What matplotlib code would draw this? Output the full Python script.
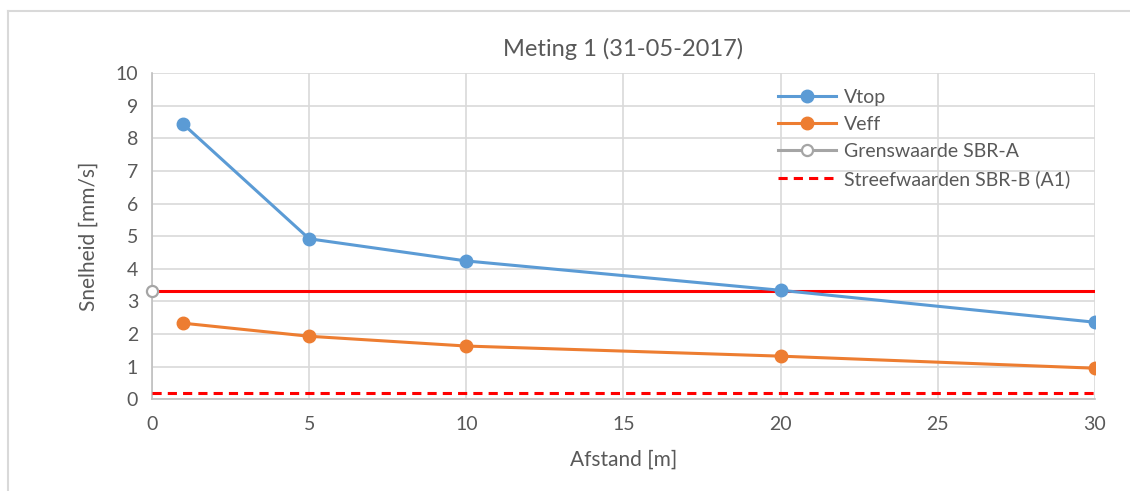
import numpy as np
import matplotlib.pyplot as plt
from matplotlib.lines import Line2D

plt.rcParams['font.family'] = ['Lato', 'DejaVu Sans']

# distances [m] and measured velocities [mm/s]
afstand = [1, 5, 10, 20, 30]
vtop = [8.43, 4.92, 4.24, 3.34, 2.36]
veff = [2.33, 1.93, 1.63, 1.32, 0.95]

grens_x = [0]
grens_y = [3.33]
grens_lijn_x = [0, 30]
grens_lijn_y = [3.33, 3.33]
streef_x = [0, 30]
streef_y = [0.19, 0.19]

blue = '#5b9bd5'
orange = '#ed7d31'
grey = '#a5a5a5'
txt = '#595959'

fig = plt.figure(figsize=(11.3, 4.91), dpi=100)
ax = fig.add_axes([0.1345, 0.187, 0.8345, 0.664])

ax.plot(afstand, vtop, color=blue, lw=2.2, marker='o', ms=9, label='Vtop', zorder=5)
ax.plot(afstand, veff, color=orange, lw=2.2, marker='o', ms=9, label='Veff', zorder=5)
ax.plot(grens_x, grens_y, color=grey, lw=2.2, marker='o', ms=8, mfc='white',
        mec=grey, mew=1.6, label='Grenswaarde SBR-A', zorder=6, clip_on=False)
ax.plot(grens_lijn_x, grens_lijn_y, color='#ff0000', lw=2.2, label='_nolegend_', zorder=4)
ax.plot(streef_x, streef_y, color='#ff0000', lw=2.2, ls=(0, (3, 2)),
        label='Streefwaarden SBR-B (A1)', zorder=4)

ax.set_xlim(0, 30)
ax.set_ylim(0, 10)
ax.set_xticks(np.arange(0, 31, 5))
ax.set_yticks(np.arange(0, 11, 1))
ax.grid(True, color='#d9d9d9', lw=1.2)
ax.set_axisbelow(True)
for s in ['top', 'right']:
    ax.spines[s].set_visible(False)
for s in ['left', 'bottom']:
    ax.spines[s].set_color('#bfbfbf')
    ax.spines[s].set_linewidth(1.2)
ax.tick_params(length=0, labelsize=14, colors=txt, pad=12)
ax.tick_params(axis='y', pad=10)

ax.set_xlabel('Afstand [m]', fontsize=15, color=txt, labelpad=12)
ax.set_ylabel('Snelheid [mm/s]', fontsize=15, color=txt, labelpad=12)
ax.set_title('Meting 1 (31-05-2017)', fontsize=17, color=txt, pad=12)

leg = ax.legend(loc='upper left', bbox_to_anchor=(0.645, 1.005), frameon=False,
                fontsize=14, labelcolor=txt, handlelength=3.0,
                handletextpad=0.4, labelspacing=0.52)

# outer chart frame
fig.add_artist(Line2D([8 / 1130, 1], [1 - 10.5 / 491] * 2, color='#d9d9d9', lw=1.5))
fig.add_artist(Line2D([8 / 1130] * 2, [0, 1 - 10.5 / 491], color='#d9d9d9', lw=1.5))

fig.savefig('out.png', dpi=100)
